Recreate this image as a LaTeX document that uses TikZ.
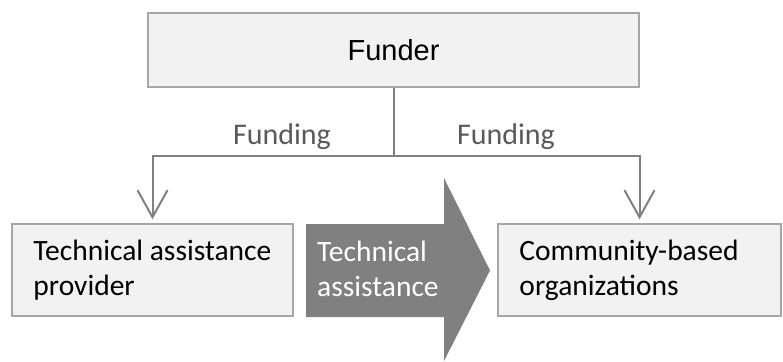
\documentclass[tikz,border=0pt]{standalone}
\usepackage{fontspec}
\setmainfont{Carlito}
\newfontfamily\arialfont{Liberation Sans}
\usepackage{tikz}
\usetikzlibrary{positioning,calc,arrows.meta}

\definecolor{boxfill}{HTML}{F2F2F2}
\definecolor{boxline}{HTML}{A6A6A6}
\definecolor{flowgray}{HTML}{808080}
\definecolor{labelgray}{HTML}{595959}

\tikzset{
    orgbox/.style={draw=boxline, fill=boxfill, line width=1.5pt, minimum height=92pt},
    orgtext/.style={anchor=west, align=left, inner sep=0pt, font=\fontsize{29.5}{35}\selectfont},
    flow/.style={draw=flowgray, line width=2pt},
    fundlabel/.style={text=labelgray, font=\fontsize{30}{35}\selectfont, inner sep=0pt}
}

\begin{document}
\begin{tikzpicture}[x=1pt,y=-1pt]
    \useasboundingbox (0,0) rectangle (783,361);

    % Funder
    \node[orgbox, minimum width=491pt, minimum height=74pt] (funder) at (393.5,50)
        {\arialfont\fontsize{29}{34}\selectfont Funder};

    % Receiving organizations
    \node[orgbox, minimum width=281pt] (tap) at (152.5,270) {};
    \node[orgtext] (taptext) at ([xshift=22pt]tap.west) {Technical assistance\\provider};
    \node[orgbox, minimum width=283pt] (cbo) at (639.5,270) {};
    \node[orgtext] (cbotext) at ([xshift=22pt]cbo.west) {Community-based\\organizations};

    % Funding flows
    \coordinate (hub) at (393.5,156);
    \draw[flow] (funder.south) -- (hub);
    \draw[flow, -{Straight Barb[length=27pt,width=30pt]}, shorten >=4pt] (hub) -| (tap.north);
    \draw[flow, -{Straight Barb[length=27pt,width=30pt]}, shorten >=4pt] (hub) -| (cbo.north);
    \node[fundlabel] (fundleft) at (282,137) {Funding};
    \node[fundlabel] (fundright) at (506,137) {Funding};

    % Technical assistance arrow
    \fill[flowgray] (306,224) -- (444,224) -- (444,178) -- (490,270.5)
        -- (444,361) -- (444,317) -- (306,317) -- cycle;
    \node[orgtext, text=white] (tatext) at (317,269) {Technical\\assistance};
\end{tikzpicture}
\end{document}
